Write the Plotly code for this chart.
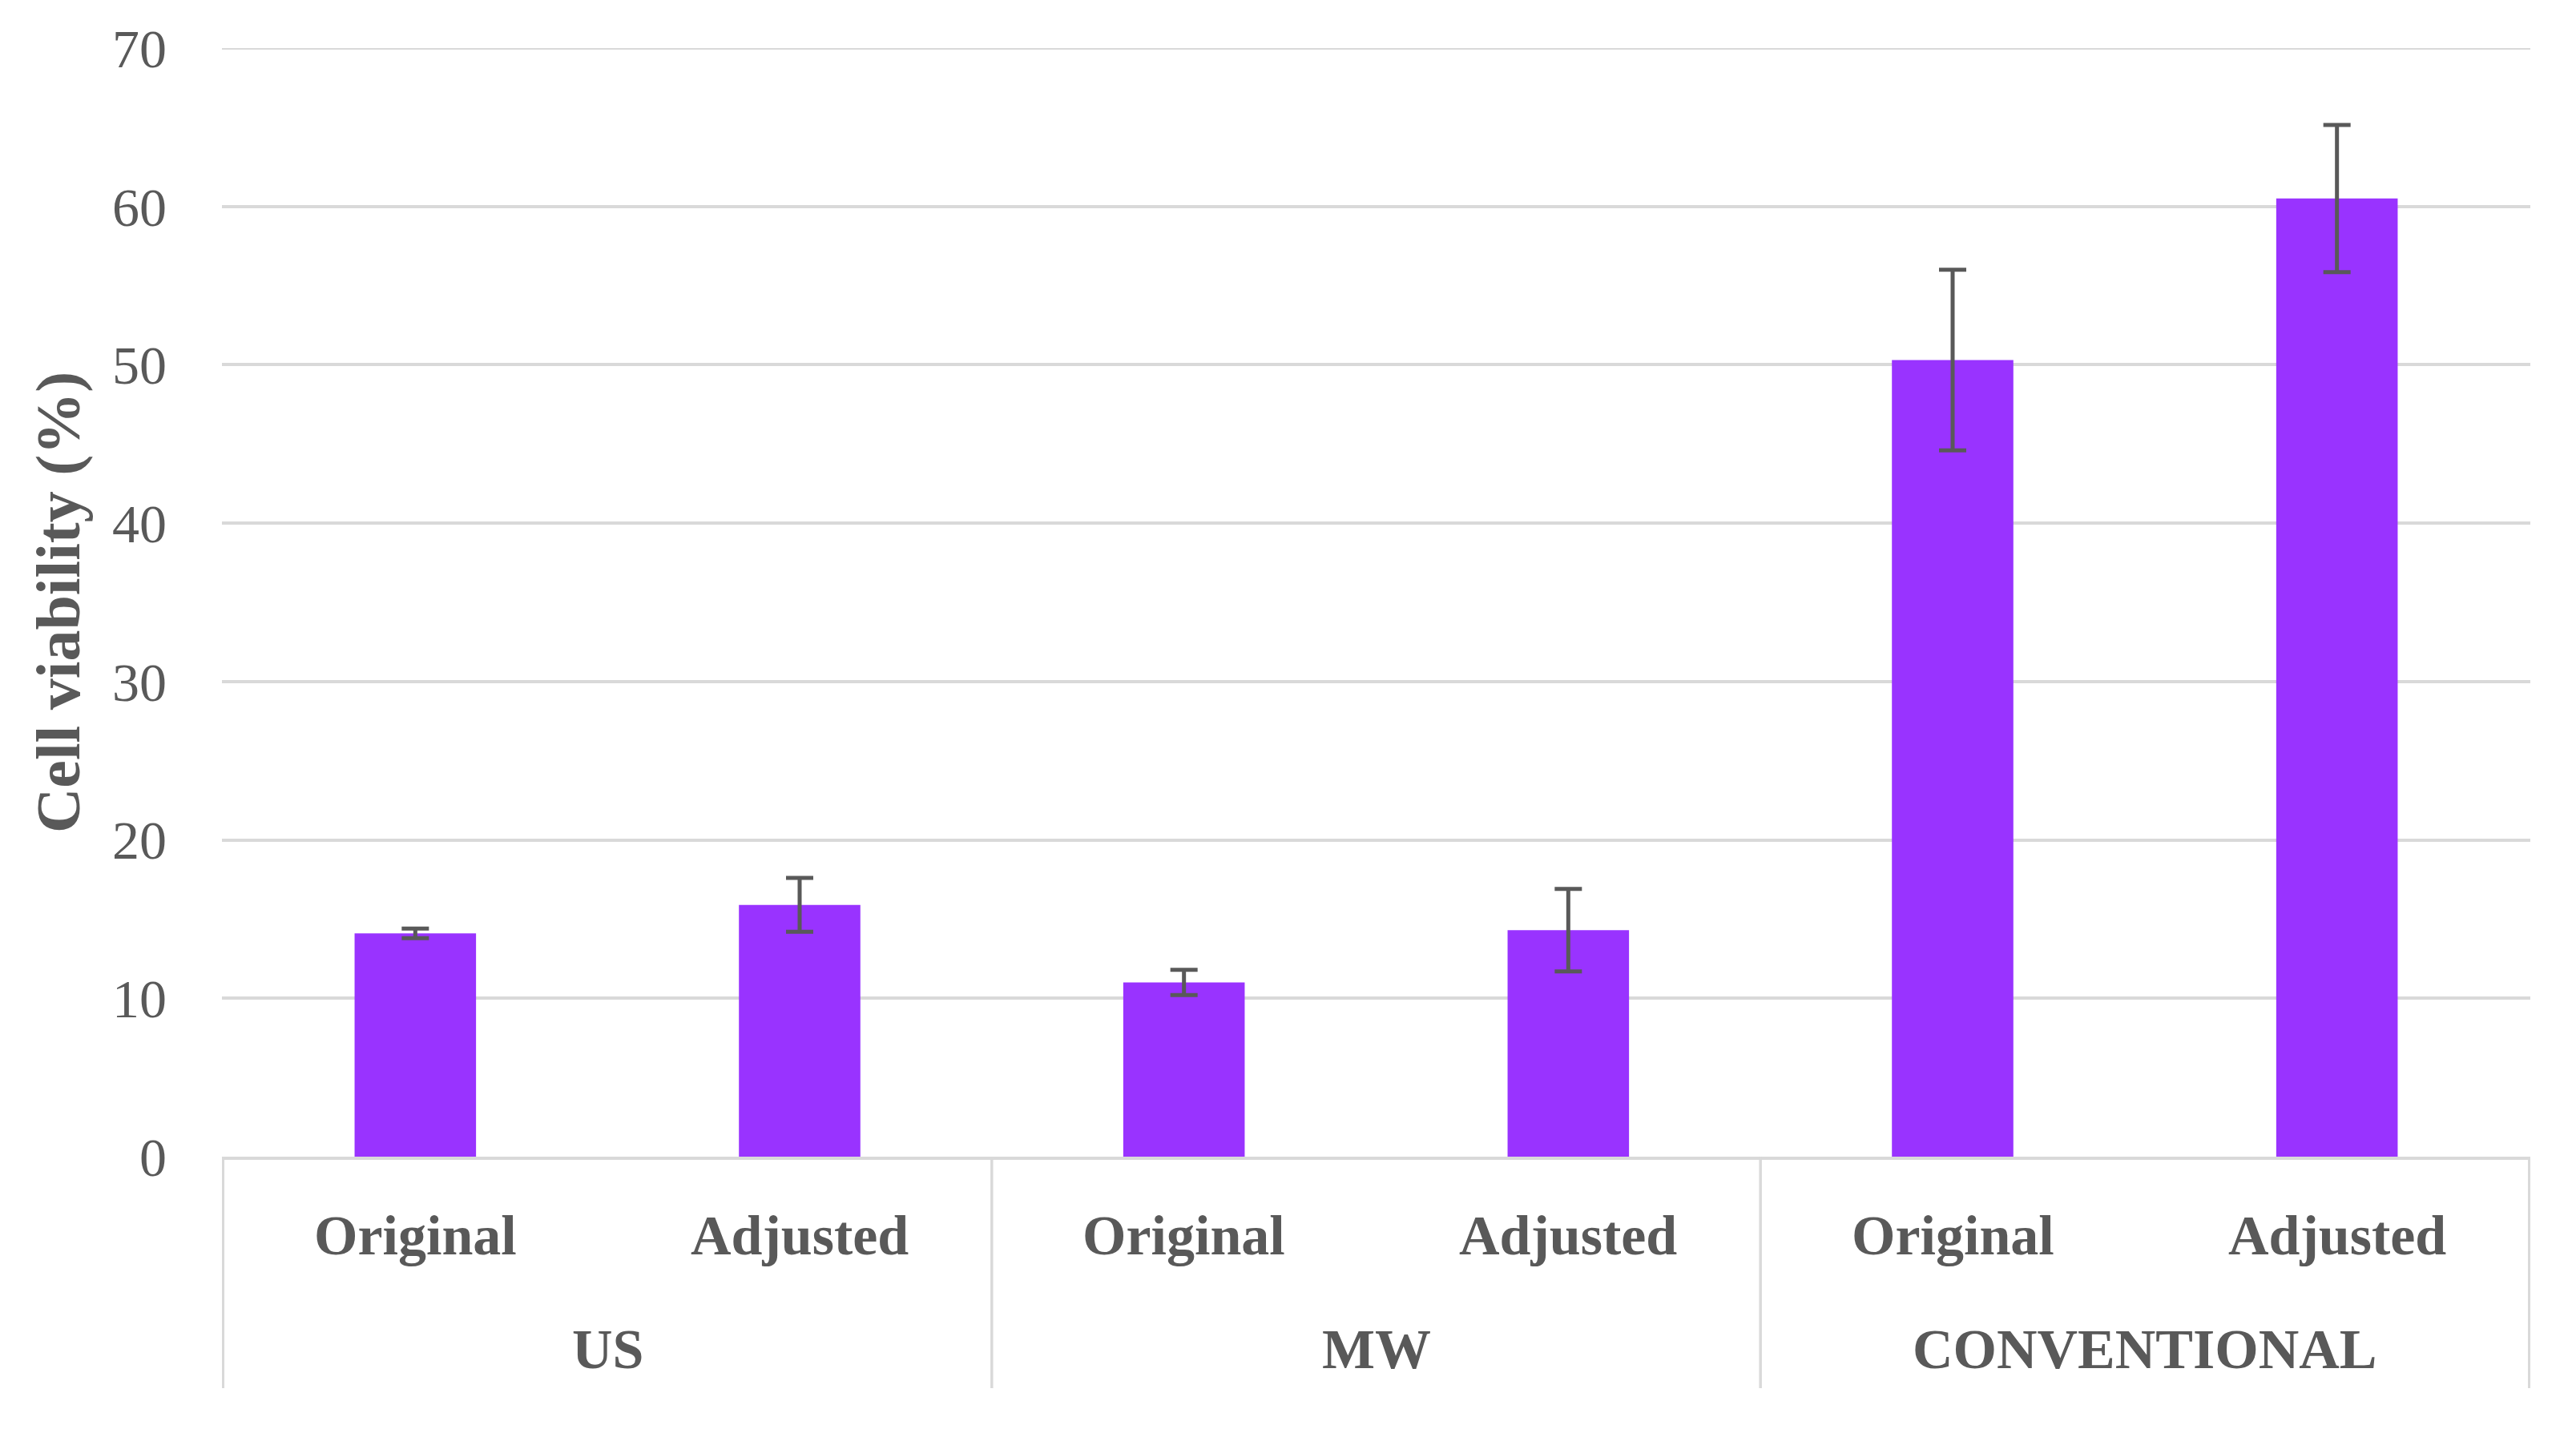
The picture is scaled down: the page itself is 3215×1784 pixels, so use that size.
import plotly.graph_objects as go

groups = ["US", "US", "MW", "MW", "CONVENTIONAL", "CONVENTIONAL"]
methods = ["Original", "Adjusted", "Original", "Adjusted", "Original", "Adjusted"]
viability = [14.1, 15.9, 11.0, 14.3, 50.3, 60.5]
errors = [0.3, 1.7, 0.8, 2.6, 5.7, 4.65]
y_ticks = [0, 10, 20, 30, 40, 50, 60, 70]

TEXT = "#595959"
GRID = "#D9D9D9"
FONT = "Liberation Serif"

W, H = 3215, 1784
# plot area target (page pixels); the page body adds an 8px offset
PL, PR, PT, PB = 277, 3158, 60, 1444
OFF = 8
plot_h = PB - PT

cats = [f"{g} | {m}" for g, m in zip(groups, methods)]

fig = go.Figure(
    go.Bar(
        x=cats,
        y=viability,
        marker=dict(color="#9933FF", line=dict(width=0)),
        error_y=dict(type="data", array=errors, visible=True,
                     color="#595959", thickness=5, width=17),
    )
)

fig.update_layout(
    width=W, height=H,
    paper_bgcolor="white", plot_bgcolor="white",
    margin=dict(l=PL - OFF, r=W + OFF - PR, t=PT - OFF, b=H + OFF - PB),
    bargap=0.684,
    showlegend=False,
    font=dict(family=FONT, color=TEXT),
)

fig.update_yaxes(
    range=[0, y_ticks[-1]], tickvals=y_ticks,
    showgrid=True, gridcolor=GRID, gridwidth=4,
    zeroline=False, showline=False,
    ticks="", ticklabelstandoff=68,
    tickfont=dict(family=FONT, size=68, color=TEXT),
)

fig.update_xaxes(
    type="category",
    showline=True, linecolor=GRID, linewidth=4,
    showgrid=False, ticks="", showticklabels=False,
)

annotations = []
shapes = []

# top gridline (plotly omits the gridline sitting on the plot edge)
shapes.append(dict(type="line", xref="paper", yref="y", x0=0, x1=1,
                   y0=y_ticks[-1], y1=y_ticks[-1],
                   line=dict(color=GRID, width=4), layer="below"))

# sub-category labels
for i, m in enumerate(methods):
    annotations.append(dict(
        x=i, y=-98 / plot_h, xref="x", yref="paper",
        text=f"<b>{m}</b>", showarrow=False, xanchor="center", yanchor="middle",
        font=dict(family=FONT, size=70, color=TEXT),
    ))

# group labels and dividers
order = []
for g in groups:
    if g not in order:
        order.append(g)
div_depth = (1733 - PB) / plot_h
for g in order:
    idx = [i for i, gg in enumerate(groups) if gg == g]
    lo, hi = min(idx) - 0.5, max(idx) + 0.5
    annotations.append(dict(
        x=(lo + hi) / 2, y=-241 / plot_h, xref="x", yref="paper",
        text=f"<b>{g}</b>", showarrow=False, xanchor="center", yanchor="middle",
        font=dict(family=FONT, size=70, color=TEXT),
    ))
    for xv in (lo, hi):
        shapes.append(dict(type="line", xref="x", yref="paper",
                           x0=xv, x1=xv, y0=0, y1=-div_depth,
                           line=dict(color=GRID, width=3)))

# y-axis title
annotations.append(dict(
    x=0, y=0.5, xref="paper", yref="paper", xshift=72 - PL,
    text="<b>Cell viability (%)</b>", textangle=-90, showarrow=False,
    xanchor="center", yanchor="middle",
    font=dict(family=FONT, size=78, color=TEXT),
))

fig.update_layout(annotations=annotations, shapes=shapes)

fig.write_html("out.html")
